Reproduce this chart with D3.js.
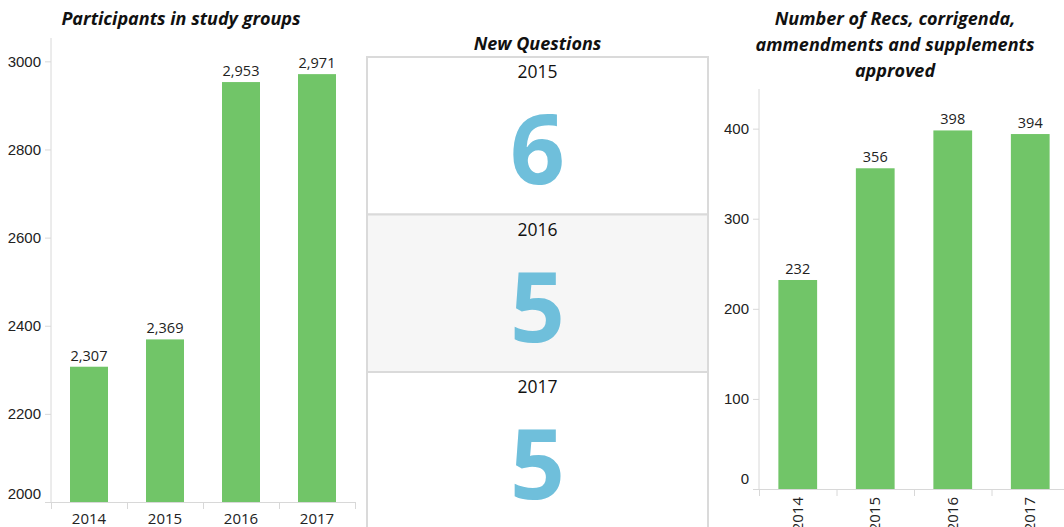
<!DOCTYPE html>
<html>
<head>
<meta charset="utf-8">
<script src="https://cdn.jsdelivr.net/npm/d3@7"></script>
<style>
    body { margin: 0; background: #fff; }
    svg { font-family: "Open Sans", sans-serif; }
    .title { font-weight: bold; font-style: italic; font-size: 18px; fill: #111; }
    .axis path, .axis line { stroke: #d8d8d8; }
    .axis text { font-size: 15px; fill: #222; }
</style>
</head>
<body>
<svg id="board" width="1064" height="527"></svg>
<script>
var years = ["2014", "2015", "2016", "2017"],
    participants = [2307, 2369, 2953, 2971],
    participant_ticks = [2000, 2200, 2400, 2600, 2800, 3000],
    question_years = ["2015", "2016", "2017"],
    new_questions = [6, 5, 5],
    recs = [232, 356, 398, 394],
    rec_ticks = [0, 100, 200, 300, 400];

var green = "#71c568",
    blue = "#6fbfdb",
    fmt = d3.format(",");

function draw_bars(svg, ctx) {
    var g = svg.append("g");

    var x = d3.scaleBand().domain(years).range(ctx.xr).paddingInner(0.5).paddingOuter(0.25),
        y = d3.scaleLinear().domain(ctx.ydom).range(ctx.yr);

    g.append("text").classed("title", true).attr("text-anchor", "middle")
        .selectAll("tspan").data(ctx.title).enter().append("tspan")
        .attr("x", ctx.tx).attr("y", (d, i) => ctx.ty + i * 26).text(d => d);

    // y axis
    var yax = g.append("g").classed("axis", true).attr("transform", "translate(" + [ctx.xr[0], 0] + ")")
        .call(d3.axisLeft(y).tickValues(ctx.ticks).tickFormat(d3.format("d")).tickSize(6).tickPadding(4));
    yax.select(".domain").attr("d", "M0," + ctx.yr[1] + "V" + ctx.yr[0]);
    yax.selectAll(".tick text").filter(d => d == ctx.ticks[0]).attr("dy", ctx.lowdy);

    // x axis with separators between the bands
    var base = ctx.yr[0];
    var xax = g.append("g").classed("axis", true);
    xax.append("line").attr("x1", ctx.xr[0] - 6).attr("x2", ctx.xr[1]).attr("y1", base + 0.5).attr("y2", base + 0.5);
    xax.selectAll(".sep").data(d3.range(years.length + 1)).enter().append("line").classed("sep", true)
        .attr("x1", i => ctx.xr[0] + i * x.step() + 0.5).attr("x2", i => ctx.xr[0] + i * x.step() + 0.5)
        .attr("y1", base).attr("y2", base + 7);

    if(ctx.rotate) {
        xax.selectAll(".lbl").data(years).enter().append("text").classed("lbl", true)
            .attr("transform", d => "translate(" + [x(d) + x.bandwidth() / 2 + 5, base + 8] + ") rotate(-90)")
            .attr("text-anchor", "end").text(d => d);
    } else {
        xax.selectAll(".lbl").data(years).enter().append("text").classed("lbl", true)
            .attr("x", d => x(d) + x.bandwidth() / 2).attr("y", base + 22)
            .attr("text-anchor", "middle").text(d => d);
    }

    g.selectAll(".bar").data(ctx.values).enter().append("rect").classed("bar", true)
        .attr("x", (d, i) => x(years[i])).attr("width", x.bandwidth())
        .attr("y", d => y(d)).attr("height", d => base - y(d))
        .attr("fill", green);

    g.selectAll(".val").data(ctx.values).enter().append("text").classed("val", true)
        .attr("x", (d, i) => x(years[i]) + x.bandwidth() / 2).attr("y", d => y(d) - 6)
        .attr("text-anchor", "middle").style("font-size", "14.5px").attr("fill", "#222")
        .text(d => fmt(d));
}

function draw_questions(svg) {
    var g = svg.append("g"),
        left = 367, right = 708, cx = (left + right) / 2;

    var rows = d3.scaleBand().domain(question_years).range([57, 57 + 3 * 157.5]);

    g.append("text").classed("title", true).attr("text-anchor", "middle")
        .attr("x", cx).attr("y", 50).text("New Questions");

    var row = g.selectAll(".row").data(question_years).enter().append("g").classed("row", true)
        .attr("transform", d => "translate(0," + rows(d) + ")");

    row.append("rect").attr("x", left).attr("width", right - left).attr("height", rows.bandwidth())
        .attr("fill", (d, i) => i % 2 ? "#f6f6f6" : "#fff")
        .attr("stroke", "#dadada").attr("stroke-width", 2);

    row.append("text").attr("x", cx).attr("y", 21).attr("text-anchor", "middle")
        .style("font-size", "17.5px").attr("fill", "#111").text(d => d);

    row.append("text").attr("x", cx).attr("y", 127).attr("text-anchor", "middle")
        .style("font-size", "96px").style("font-weight", "bold").attr("fill", blue)
        .text((d, i) => new_questions[i]);
}

var svg = d3.select("#board");

draw_bars(svg, {
    title: ["Participants in study groups"], tx: 181, ty: 25,
    xr: [51, 355], yr: [502, 38], ydom: [2000, 3053],
    ticks: participant_ticks, values: participants, lowdy: "-0.25em", rotate: false
});

draw_questions(svg);

draw_bars(svg, {
    title: ["Number of Recs, corrigenda,", "ammendments and supplements", "approved"], tx: 895, ty: 25,
    xr: [759, 1069], yr: [489, 89], ydom: [0, 444],
    ticks: rec_ticks, values: recs, lowdy: "-0.4em", rotate: true
});
</script>
</body>
</html>
